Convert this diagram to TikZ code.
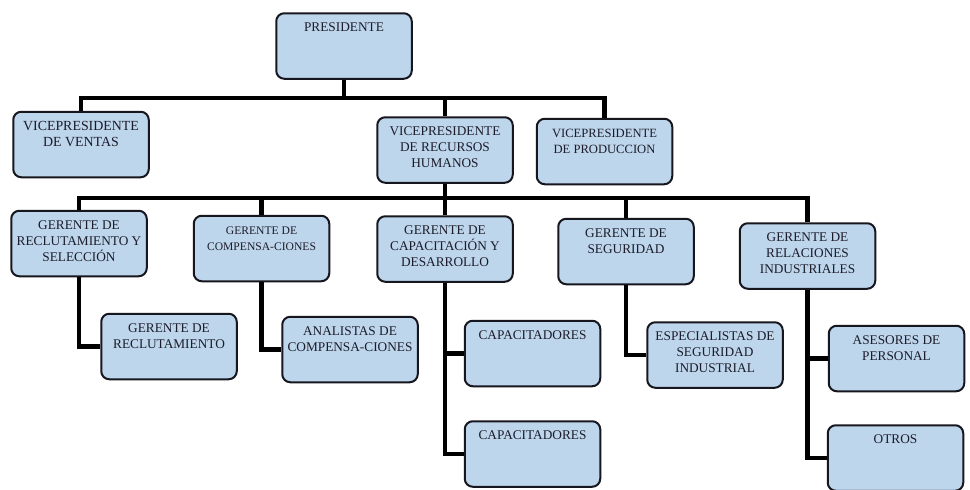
\documentclass[tikz,border=0pt]{standalone}
\usepackage{fontspec}
\setmainfont{Liberation Serif}
\usepackage{tikz}
\usetikzlibrary{calc}
\definecolor{cajaazul}{RGB}{190,214,236}
\definecolor{bordecaja}{RGB}{22,22,30}
\definecolor{textocaja}{RGB}{28,28,42}
\tikzset{
  caja/.style={draw=bordecaja,line width=2pt,rounded corners=8pt,fill=cajaazul,
    inner sep=0pt,text=textocaja},
  linea/.style={line width=4.6pt,line join=miter}
}
% Text of a box, set from the top
\newcommand*{\cargo}[2][13.3]{\parbox[c][65.5pt][t]{135.5pt}{\centering
  \fontsize{#1}{16}\selectfont\rule{0pt}{18.5pt}#2}}

\begin{document}
\begin{tikzpicture}[x=1pt,y=-1pt]
\useasboundingbox[fill=white] (0,0) rectangle (970,490);
\clip (0,0) rectangle (970,490);

% Heights of the two bars
\coordinate (bus1) at (0,98);
\coordinate (bus2) at (0,198);

% Top and vice presidents
\node [caja] (presidente) at (344,46) {\cargo{PRESIDENTE}};
\node [caja] (vpventas) at (81,144.5) {\cargo[13.9]{VICEPRESIDENTE\\DE VENTAS}};
\node [caja] (vprrhh) at (445,150) {\cargo{VICEPRESIDENTE\\DE RECURSOS\\HUMANOS}};
\node [caja] (vpproduccion) at (604.5,151.5) {\cargo[12.6]{VICEPRESIDENTE\\DE PRODUCCION}};

% Managers
\node [caja] (grecsel) at (79,243.5) {\cargo{GERENTE DE\\RECLUTAMIENTO Y\\SELECCIÓN}};
\node [caja] (gcompensa) at (261.5,248.5) {\cargo[11.6]{GERENTE DE\\COMPENSA-CIONES}};
\node [caja] (gcapacita) at (445,249) {\cargo{GERENTE DE\\CAPACITACIÓN Y\\DESARROLLO}};
\node [caja] (gseguridad) at (626,251.5) {\cargo{GERENTE DE\\SEGURIDAD}};
\node [caja] (grelaciones) at (807.5,256) {\cargo{GERENTE DE\\RELACIONES\\INDUSTRIALES}};

% Staff
\node [caja] (grecluta) at (169,346.5) {\cargo{GERENTE DE\\RECLUTAMIENTO}};
\node [caja] (analistas) at (350,349.5) {\cargo{ANALISTAS DE\\COMPENSA-CIONES}};
\node [caja] (capacita1) at (532.5,353.5) {\cargo{CAPACITADORES}};
\node [caja] (capacita2) at (532.5,454) {\cargo{CAPACITADORES}};
\node [caja] (especialistas) at (715,355) {\cargo{ESPECIALISTAS DE\\SEGURIDAD\\INDUSTRIAL}};
\node [caja] (asesores) at (896.5,358.5) {\cargo{ASESORES DE\\PERSONAL}};
\node [caja] (otros) at (895.5,458) {\cargo{OTROS}};

% First bar
\draw [linea] (presidente.south) -- (presidente.south |- bus1);
\draw [linea] (vpventas.north) -- (vpventas.north |- bus1)
  -- (vpproduccion.north |- bus1) -- (vpproduccion.north);
\draw [linea] (vprrhh.north) -- (vprrhh.north |- bus1);

% Second bar
\draw [linea] (vprrhh.south) -- (gcapacita.north);
\draw [linea] (grecsel.north) -- (grecsel.north |- bus2)
  -- (grelaciones.north |- bus2) -- (grelaciones.north);
\draw [linea] (gcompensa.north) -- (gcompensa.north |- bus2);
\draw [linea] (gseguridad.north) -- (gseguridad.north |- bus2);

% Down to the staff
\draw [linea] (grecsel.south) |- (grecluta.west);
\draw [linea] (gcompensa.south) |- (analistas.west);
\draw [linea] (gcapacita.south) |- (capacita2.west);
\draw [linea] (gcapacita.south) |- (capacita1.west);
\draw [linea] (gseguridad.south) |- (especialistas.west);
\draw [linea] (grelaciones.south) |- (otros.west);
\draw [linea] (grelaciones.south) |- (asesores.west);

\end{tikzpicture}
\end{document}
